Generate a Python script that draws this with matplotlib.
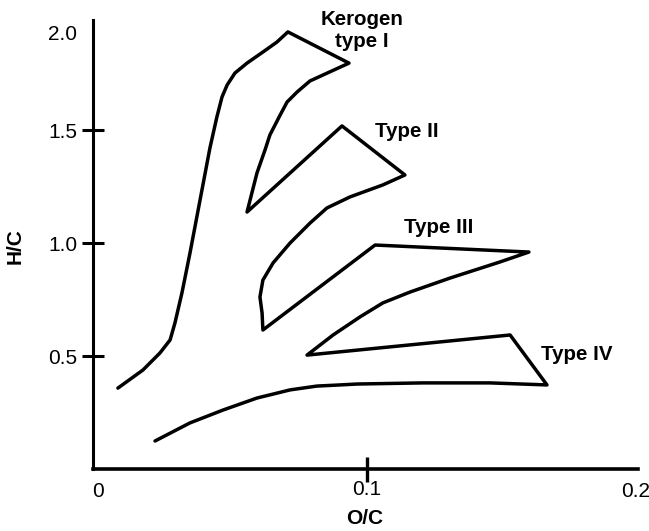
import numpy as np
import matplotlib
matplotlib.use('Agg')
from matplotlib import pyplot as plt
import matplotlib.transforms as mtransforms

plt.rcParams['font.family'] = ['Liberation Sans', 'DejaVu Sans']

# boundary of the kerogen fields, traced as one continuous line (O/C, H/C)
type1_oc = [0.0074, 0.0167, 0.0230, 0.0268, 0.0286, 0.0312, 0.0342, 0.0368, 0.0416,
            0.0442, 0.0461, 0.0480, 0.0509, 0.0554, 0.0613, 0.0665, 0.0706, 0.0933,
            0.0788, 0.0740, 0.0703, 0.0677, 0.0639, 0.0621, 0.0591, 0.0554]
type1_hc = [0.358, 0.438, 0.513, 0.571, 0.646, 0.779, 0.956, 1.119, 1.420,
            1.558, 1.646, 1.699, 1.752, 1.796, 1.845, 1.889, 1.934, 1.796,
            1.717, 1.668, 1.624, 1.566, 1.478, 1.412, 1.310, 1.137]

type2_oc = [0.0907, 0.1141, 0.1059, 0.0937, 0.0851, 0.0788, 0.0714, 0.0651, 0.0613, 0.0602, 0.0610, 0.0613]
type2_hc = [1.518, 1.301, 1.257, 1.204, 1.155, 1.088, 1.000, 0.912, 0.836, 0.761, 0.690, 0.615]

type3_oc = [0.1030, 0.1602, 0.1494, 0.1309, 0.1160, 0.1059, 0.0974, 0.0874, 0.0777]
type3_hc = [0.991, 0.960, 0.916, 0.845, 0.783, 0.735, 0.673, 0.593, 0.504]

type4_oc = [0.1532, 0.1669, 0.1457, 0.1208, 0.0963, 0.0900, 0.0814, 0.0714, 0.0591, 0.0465, 0.0342, 0.0212]
type4_hc = [0.593, 0.372, 0.381, 0.381, 0.376, 0.372, 0.367, 0.350, 0.314, 0.261, 0.204, 0.124]

labels = ['Kerogen\ntype I', 'Type II', 'Type III', 'Type IV']
label_oc = [0.0981, 0.1149, 0.1268, 0.178]
label_hc = [1.942, 1.469, 1.044, 0.482]

x_major = [0.1]
x_minor = [0, 0.2]
y_major = [0.5, 1.0, 1.5]
y_minor = [2.0]

fig = plt.figure(figsize=(6.49, 5.31), dpi=100)
ax = fig.add_axes([0.1433, 0.11676, 0.83975, 0.85122])

oc = np.concatenate([type1_oc, type2_oc, type3_oc, type4_oc])
hc = np.concatenate([type1_hc, type2_hc, type3_hc, type4_hc])
ax.plot(oc, hc, color='black', lw=2.5, solid_joinstyle='round', solid_capstyle='round')

for t, x, y in zip(labels, label_oc, label_hc):
    va = 'center' if '\n' in t else 'baseline'
    ax.text(x, y, t, ha='center', va=va, fontsize=14.8, fontweight='bold')

ax.set_xlim(-5 / 2690, 540 / 2690)
ax.set_ylim(0, 2.0)
ax.spines['top'].set_visible(False)
ax.spines['right'].set_visible(False)
ax.spines['left'].set_linewidth(2.2)
ax.spines['bottom'].set_linewidth(2.6)
ax.spines['left'].set_bounds(0, 1.987)

ax.set_xticks(x_major)
ax.set_xticks(x_minor, minor=True)
ax.set_xticklabels(['0.1'])
ax.set_xticklabels(['0', '0.2'], minor=True)
ax.set_yticks(y_major)
ax.set_yticks(y_minor, minor=True)
ax.set_yticklabels(['0.5', '1.0', '1.5'])
ax.set_yticklabels(['2.0'], minor=True)

ax.tick_params(axis='x', which='major', direction='inout', length=18, width=2.4, pad=-1, labelsize=15)
ax.tick_params(axis='x', which='minor', length=0, pad=9, labelsize=15)
ax.tick_params(axis='y', which='major', direction='inout', length=16, width=2.2, pad=3.5, labelsize=15)
ax.tick_params(axis='y', which='minor', length=0, pad=11.5, labelsize=15)

ax.set_xlabel('O/C', fontsize=15, fontweight='bold', va='center')
ax.xaxis.set_label_coords(0.499, -0.1106)
ax.set_ylabel('H/C', fontsize=15, fontweight='bold', va='center')
ax.yaxis.set_label_coords(-0.143, 0.493)

# the "2.0" label sits a little below the top of the axis in the original
off = mtransforms.ScaledTranslation(0, -0.15, fig.dpi_scale_trans)
for lab in ax.yaxis.get_minorticklabels():
    lab.set_transform(lab.get_transform() + off)

fig.savefig('out.png', dpi=100)
